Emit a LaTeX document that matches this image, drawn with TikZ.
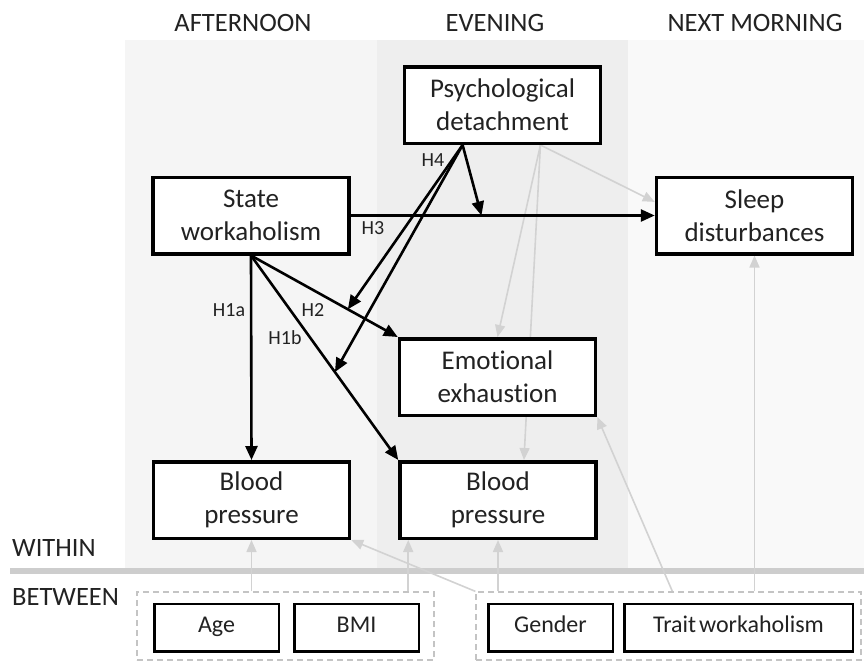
\documentclass[tikz,border=0pt]{standalone}
\usepackage{fontspec}
\setmainfont{Carlito}[Ligatures=NoCommon]
\usetikzlibrary{arrows.meta,calc}
\definecolor{txt}{HTML}{222222}
\definecolor{gline}{HTML}{D2D2D2}
\definecolor{pA}{HTML}{F5F5F5}
\definecolor{pE}{HTML}{EEEEEE}
\definecolor{pM}{HTML}{F9F9F9}
\definecolor{sep}{HTML}{CDCDCD}
\definecolor{dashc}{HTML}{C4C4C4}
\pgfdeclarelayer{bg}
\pgfdeclarelayer{lines}
\pgfsetlayers{bg,lines,main}
\tikzset{
  mainbox/.style={draw=black, fill=white, line width=3.5pt, minimum width=196pt, minimum height=76.5pt, align=center, text=txt, font=\fontsize{27}{33}\selectfont, inner sep=0pt},
  smallbox/.style={draw=black, fill=white, line width=2.5pt, minimum width=124.5pt, minimum height=47.5pt, align=center, text=txt, font=\fontsize{24}{27}\selectfont, inner sep=0pt, text height=1.05em, text depth=0.15em},
  grp/.style={draw=dashc, dash pattern=on 6pt off 4pt, line width=1.3pt, inner sep=0pt},
  hyp/.style={text=txt, font=\fontsize{20}{22}\selectfont, inner sep=0pt},
  head/.style={text=txt, font=\fontsize{26.5}{30}\selectfont, inner sep=0pt},
  blk/.style={draw=black, line width=2.6pt, -{Triangle[length=14pt,width=12pt]}},
  gry/.style={draw=gline, line width=1.6pt, -{Triangle[length=12pt,width=10pt]}},
}
\begin{document}
\begin{tikzpicture}[x=1pt,y=-1pt]
\useasboundingbox (0,0) rectangle (864,662);
% panels
\begin{pgfonlayer}{bg}
  \fill[white] (0,0) rectangle (864,662);
  \fill[pA] (125,40) rectangle (377,568);
  \fill[pE] (377,40) rectangle (628,568);
  \fill[pM] (628,40) rectangle (864,568);
  \draw[sep, line width=6pt] (10,571) -- (864,571);
\end{pgfonlayer}
% headers
\node[head] (hA) at (243,23) {AFTERNOON};
\node[head] (hE) at (495,23) {EVENING};
\node[head] (hM) at (755,23) {NEXT MORNING};
\node[head, anchor=west] (within) at (12,548) {WITHIN};
\node[head, anchor=west] (between) at (12,597) {BETWEEN};
% main boxes
\node[mainbox] (pd) at (502.5,105) {Psychological\\detachment};
\node[mainbox] (sw) at (251,215.5) {State\\workaholism};
\node[mainbox] (sl) at (754.5,215.5) {Sleep\\disturbances};
\node[mainbox] (ee) at (497.5,377) {Emotional\\exhaustion};
\node[mainbox] (bp1) at (251.5,500) {Blood\\pressure};
\node[mainbox] (bp2) at (498,500) {Blood\\pressure};
% bottom groups
\node[grp, minimum width=297pt, minimum height=68pt] (lg) at (285.5,626) {};
\node[grp, minimum width=385pt, minimum height=68pt] (rg) at (668.5,626) {};
\node[smallbox] (age) at (216.5,627.5) {Age};
\node[smallbox] (bmi) at (356.5,627.5) {BMI};
\node[smallbox] (gen) at (550.5,627.5) {Gender};
\node[smallbox, minimum width=228.5pt] (tw) at (738.5,627.5) {Trait\hspace{0.12em}workaholism};
% helper coordinates
\coordinate (pdA) at ($(pd.south west)!0.3!(pd.south east)$);
\coordinate (pdB) at ($(pd.south west)!0.69!(pd.south east)$);
\coordinate (slW) at ($(sl.north west)!0.33!(sl.south west)$);
\coordinate (bp2T) at ($(bp2.north west)!0.63!(bp2.north east)$);
\coordinate (bp2S) at ($(bp2.south west)!0.05!(bp2.south east)$);
\coordinate (rgT) at ($(rg.north west)!0.51!(rg.north east)$);
\coordinate (m3) at ($(sw.east)!0.43!(sl.west)$);
\coordinate (m2) at ($(sw.south)!0.66!(ee.north west)$);
\coordinate (m1) at ($(sw.south)!0.57!(bp2.north west)$);
% grey connectors
\begin{pgfonlayer}{lines}
  \draw[gry] (pdB) -- (slW);
  \draw[gry] (pdB) -- (ee.north);
  \draw[gry] (pdB) -- (bp2T);
  \draw[gry] (lg.north -| bp1.south) -- (bp1.south);
  \draw[gry] (lg.north -| bp2S) -- (bp2S);
  \draw[gry] (rg.north -| bp2.south) -- (bp2.south);
  \draw[gry] (rg.north west) -- (bp1.south east);
  \draw[gry] (rgT) -- (ee.south east);
  \draw[gry] (rg.north -| sl.south) -- (sl.south);
\end{pgfonlayer}
% black connectors
\draw[blk] (sw.south) -- (bp1.north);
\draw[blk] (sw.south) -- (ee.north west);
\draw[blk] (sw.south) -- (bp2.north west);
\draw[blk] (sw.east) -- (sl.west);
\draw[blk] (pdA) -- (m3);
\draw[blk] (pdA) -- (m2);
\draw[blk] (pdA) -- (m1);
% hypothesis labels
\node[hyp] (h1a) at (229,310) {H1a};
\node[hyp] (h2) at (313,310) {H2};
\node[hyp] (h1b) at (285,338) {H1b};
\node[hyp] (h3) at (373,228) {H3};
\node[hyp] (h4) at (433,160) {H4};
\end{tikzpicture}
\end{document}
